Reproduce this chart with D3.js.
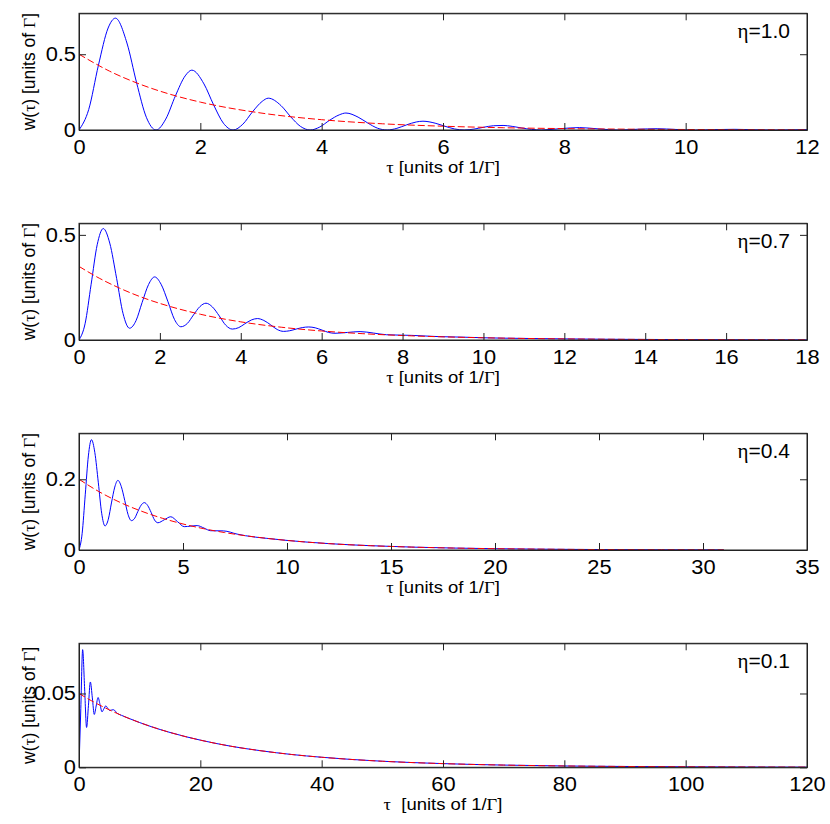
<!DOCTYPE html>
<html>
<head>
<meta charset="utf-8">
<script src="https://cdn.jsdelivr.net/npm/d3@7"></script>
<style>
body { margin: 0; background: #fff; }
svg { display: block; }
text { font-family: "Liberation Sans", Arial, Helvetica, sans-serif; fill: #000; }
.greek { font-family: "Liberation Serif", "Times New Roman", serif; }
</style>
</head>
<body>
<svg id="svg1" width="830" height="824"></svg>
<script>
// eta values shown in the top right of each panel
var etaLabels = ['1.0', '0.7', '0.4', '0.1'];

// x / y ranges and ticks of each panel
var xMaxes = [12, 18, 35, 120];
var yMaxes = [0.77, 0.555, 0.33, 0.084];
var xTicks1 = [0, 2, 4, 6, 8, 10, 12];
var xTicks2 = [0, 2, 4, 6, 8, 10, 12, 14, 16, 18];
var xTicks3 = [0, 5, 10, 15, 20, 25, 30, 35];
var xTicks4 = [0, 20, 40, 60, 80, 100, 120];
var yTicks1 = [0, 0.5];
var yTicks2 = [0, 0.5];
var yTicks3 = [0, 0.2];
var yTicks4 = [0, 0.05];

// eta = 1.0  (blue = w(tau), red dashed = exponential)
var tau1 = [0,0.16,0.32,0.48,0.60,0.79,0.95,1.11,1.27,1.43,1.59,1.75,1.86,2.06,2.22,2.38,2.54,2.70,2.86,3.02,3.12,3.33,3.49,3.65,3.81,
            3.97,4.13,4.29,4.40,4.60,4.76,4.92,5.08,5.24,5.40,5.56,5.67,5.87,6.03,6.19,6.35,6.51,6.67,6.83,6.99,7.14,7.30,7.46,7.62,
            7.94,8.25,8.57,8.89,9.21,9.53,9.84,10.16,10.48,10.80,11.11,11.43,11.75,12.0];
var blue1 = [0,0.135,0.427,0.673,0.738,0.574,0.311,0.084,0,0.072,0.226,0.357,0.395,0.304,0.165,0.045,0,0.038,0.120,0.189,0.210,0.161,0.087,0.024,0,
             0.020,0.064,0.100,0.112,0.085,0.046,0.012,0,0.011,0.034,0.053,0.058,0.045,0.025,0.007,0,0.006,0.018,0.028,0.030,0.024,0.013,0.004,0,
             0.009,0.016,0.007,0,0.005,0.0085,0.0036,0,0.0027,0.0045,0.0019,0,0.0014,0.0024];
var tauRed1 = [0,0.5,1,1.5,2,3,4,5,6,7,8,9,10,11,12];
var red1 = [0.5,0.389,0.303,0.236,0.184,0.112,0.068,0.041,0.025,0.015,0.0092,0.0056,0.0034,0.0020,0.0012];

// eta = 0.7
var tau2 = [0,0.15,0.30,0.45,0.60,0.76,0.93,1.09,1.25,1.41,1.56,1.72,1.87,2.03,2.20,2.36,2.52,2.68,2.83,2.99,3.14,3.30,3.47,3.63,3.79,
            3.95,4.10,4.26,4.41,4.57,4.74,4.90,5.06,5.21,5.37,5.52,5.68,5.84,6.01,6.17,6.33,6.64,6.95,7.28,7.60,8.22,8.90,9.5,
            10,11,12,13,14,15,16,17,18];
var blue2 = [0,0.077,0.265,0.453,0.53,0.461,0.293,0.125,0.056,0.092,0.178,0.264,0.30,0.265,0.182,0.098,0.063,0.079,0.119,0.159,0.175,0.157,0.114,0.070,0.052,
             0.059,0.077,0.095,0.102,0.093,0.072,0.050,0.041,0.044,0.052,0.059,0.062,0.058,0.047,0.036,0.032,0.036,0.040,0.033,0.025,0.022,0.016,0.0135,
             0.0106,0.0075,0.0053,0.0037,0.0026,0.0018,0.0013,0.0009,0.0006];
var tauRed2 = [0,0.5,1,1.5,2,3,4,5,6,7,8,9,10,12,14,16,18];
var red2 = [0.35,0.294,0.247,0.207,0.174,0.1225,0.0863,0.0608,0.0429,0.0302,0.0213,0.0150,0.0106,0.0052,0.0026,0.0013,0.0006];

// eta = 0.4
var tau3 = [0,0.15,0.30,0.45,0.60,0.76,0.93,1.09,1.25,1.41,1.56,1.72,1.87,2.03,2.20,2.36,2.52,2.68,2.83,2.99,3.14,3.30,3.47,3.63,3.79,
            4.10,4.41,4.74,5.06,5.37,5.68,6.01,6.33,6.95,7.6,8,9,10,12,14,16,18,20,22,24,26,28,31];
var blue3 = [0,0.046,0.156,0.266,0.312,0.276,0.190,0.104,0.068,0.087,0.133,0.178,0.197,0.180,0.140,0.100,0.083,0.090,0.109,0.127,0.134,0.126,0.106,0.085,0.077,
             0.0855,0.094,0.080,0.066,0.0675,0.069,0.062,0.0545,0.054,0.045,0.0404,0.0331,0.0271,0.0181,0.0122,0.0082,0.0055,0.0037,0.0025,0.0016,0.0011,0.0007,0.0004];
var tauRed3 = [0,1,2,3,4,5,6,7,8,10,12,14,16,18,20,22,24,26,28,31];
var red3 = [0.2,0.1637,0.134,0.1098,0.0899,0.0736,0.0602,0.0493,0.0404,0.0271,0.0181,0.0122,0.0082,0.0055,0.0037,0.0025,0.0016,0.0011,0.0007,0.0004];

// eta = 0.1
var tau4 = [0,0.3,0.6,0.93,1.25,1.56,1.87,2.2,2.52,2.83,3.14,3.47,3.79,4.1,4.41,4.74,5.06,5.37,5.68,6.33,7,8,
            10,12,15,20,25,30,35,40,50,60,70,80,90,100,110,120];
var blue4 = [0,0.04,0.0797,0.053,0.027,0.042,0.0578,0.047,0.0358,0.0415,0.0473,0.0425,0.0376,0.0396,0.0416,0.040,0.0385,0.0388,0.039,0.0365,0.0352,0.0335,
             0.0303,0.0274,0.0236,0.0184,0.0143,0.0112,0.0087,0.0068,0.0041,0.0025,0.0015,0.0009,0.00056,0.00034,0.0002,0.00012];
var tauRed4 = [0,2,5,10,15,20,25,30,35,40,50,60,70,80,90,100,110,120];
var red4 = [0.05,0.0452,0.0389,0.0303,0.0236,0.0184,0.0143,0.0112,0.0087,0.0068,0.0041,0.0025,0.0015,0.0009,0.00056,0.00034,0.0002,0.00012];

var panels = [
    {eta: etaLabels[0], xMax: xMaxes[0], yMax: yMaxes[0], xt: xTicks1, yt: yTicks1, tau: tau1, w: blue1, tauR: tauRed1, r: red1, top: 13.3, bottom: 130, gap: ' '},
    {eta: etaLabels[1], xMax: xMaxes[1], yMax: yMaxes[1], xt: xTicks2, yt: yTicks2, tau: tau2, w: blue2, tauR: tauRed2, r: red2, top: 223.3, bottom: 340, gap: ' '},
    {eta: etaLabels[2], xMax: xMaxes[2], yMax: yMaxes[2], xt: xTicks3, yt: yTicks3, tau: tau3, w: blue3, tauR: tauRed3, r: red3, top: 433.3, bottom: 550, gap: ' '},
    {eta: etaLabels[3], xMax: xMaxes[3], yMax: yMaxes[3], xt: xTicks4, yt: yTicks4, tau: tau4, w: blue4, tauR: tauRed4, r: red4, top: 643.3, bottom: 767.3, gap: '  '}
];

var left = 79, right = 807;
var axisColor = '#222';

var svg = d3.select('#svg1');

// widen text glyphs horizontally, the original figure text looks stretched
function stretch(sel, k) {
    sel.each(function () {
        var w = this.getComputedTextLength();
        d3.select(this).attr('textLength', w * k).attr('lengthAdjust', 'spacingAndGlyphs');
    });
}

panels.forEach(function (p, i) {
    var x = d3.scaleLinear().domain([0, p.xMax]).range([left, right]);
    var y = d3.scaleLinear().domain([0, p.yMax]).range([p.bottom, p.top]);
    var g = svg.append('g');

    g.append('clipPath').attr('id', 'clip' + i)
        .append('rect')
        .attr('x', left).attr('y', p.top - 1)
        .attr('width', right - left).attr('height', p.bottom - p.top + 1);

    var line = d3.line()
        .x(function (d) { return x(d[0]); })
        .y(function (d) { return y(d[1]); })
        .curve(d3.curveMonotoneX);

    // blue curve first, red dashed on top
    g.append('path')
        .datum(d3.zip(p.tau, p.w))
        .attr('d', line)
        .attr('clip-path', 'url(#clip' + i + ')')
        .attr('fill', 'none')
        .attr('stroke', '#0000ff')
        .attr('stroke-width', 1);

    g.append('path')
        .datum(d3.zip(p.tauR, p.r))
        .attr('d', line)
        .attr('clip-path', 'url(#clip' + i + ')')
        .attr('fill', 'none')
        .attr('stroke', '#ff0000')
        .attr('stroke-width', 1)
        .attr('stroke-dasharray', '7,3');

    // axes, ticks pointing inwards on all four sides
    var xb = g.append('g')
        .attr('transform', 'translate(0,' + p.bottom + ')')
        .call(d3.axisBottom(x).tickValues(p.xt).tickSizeInner(-7).tickSizeOuter(0).tickPadding(10).tickFormat(d3.format('')));
    var yl = g.append('g')
        .attr('transform', 'translate(' + left + ',0)')
        .call(d3.axisLeft(y).tickValues(p.yt).tickSizeInner(-7).tickSizeOuter(0).tickPadding(3).tickFormat(d3.format('')));
    var xt = g.append('g')
        .attr('transform', 'translate(0,' + p.top + ')')
        .call(d3.axisTop(x).tickValues(p.xt).tickSizeInner(-7).tickSizeOuter(0).tickFormat(''));
    var yr = g.append('g')
        .attr('transform', 'translate(' + right + ',0)')
        .call(d3.axisRight(y).tickValues(p.yt).tickSizeInner(-7).tickSizeOuter(0).tickFormat(''));

    [xb, yl, xt, yr].forEach(function (a) {
        a.selectAll('path, line').attr('stroke', axisColor);
        a.selectAll('text').attr('font-size', 19.5).attr('font-family', '"Liberation Sans", Arial, sans-serif').attr('fill', '#000');
    });
    stretch(xb.selectAll('text'), 1.12);
    stretch(yl.selectAll('text'), 1.12);

    // x label
    var xl = g.append('text')
        .attr('x', (left + right) / 2)
        .attr('y', p.bottom + 43)
        .attr('text-anchor', 'middle')
        .attr('font-size', 16.5)
        .style('white-space', 'pre');
    xl.append('tspan').attr('class', 'greek').text('\u03c4');
    xl.append('tspan').text(p.gap + '[units of 1/');
    xl.append('tspan').attr('class', 'greek').text('\u0393');
    xl.append('tspan').text(']');
    stretch(xl, 1.12);

    // y label
    var yc = (p.top + p.bottom) / 2;
    var ylab = g.append('text')
        .attr('transform', 'translate(35,' + yc + ') rotate(-90)')
        .attr('text-anchor', 'middle')
        .attr('font-size', 17.5);
    ylab.append('tspan').text('w(');
    ylab.append('tspan').attr('class', 'greek').text('\u03c4');
    ylab.append('tspan').text(') [units of ');
    ylab.append('tspan').attr('class', 'greek').text('\u0393');
    ylab.append('tspan').text(']');

    // eta label
    var el = g.append('text')
        .attr('x', 790)
        .attr('y', p.top + 25)
        .attr('text-anchor', 'end')
        .attr('font-size', 20);
    el.append('tspan').attr('class', 'greek').text('\u03b7');
    el.append('tspan').text('=' + p.eta);
    stretch(el, 1.05);

    // box
    g.append('rect')
        .attr('x', left).attr('y', p.top)
        .attr('width', right - left).attr('height', p.bottom - p.top)
        .attr('fill', 'none')
        .attr('stroke', axisColor)
        .attr('stroke-width', 1);
});
</script>
</body>
</html>
